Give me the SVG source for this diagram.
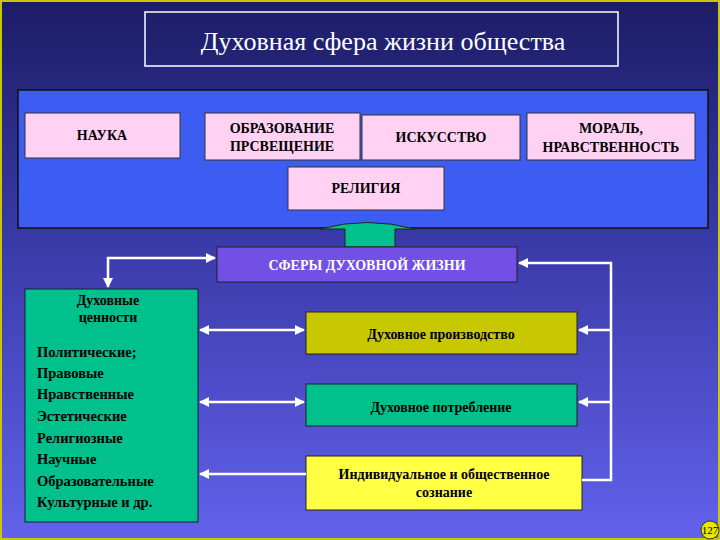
<svg xmlns="http://www.w3.org/2000/svg" width="720" height="540" viewBox="0 0 720 540">
<defs>
<linearGradient id="bg" x1="0" y1="0" x2="0" y2="1"><stop offset="0" stop-color="#1c1c66"/><stop offset="0.45" stop-color="#3a3aa8"/><stop offset="1" stop-color="#6262ec"/></linearGradient>
<marker id="ah" viewBox="0 0 10 10" refX="9" refY="5" markerWidth="4" markerHeight="4" orient="auto-start-reverse"><path d="M0,0 L10,5 L0,10 z" fill="#fff"/></marker>
<style>
text{font-family:"Liberation Serif",serif;fill:#000}
.pk{fill:#ffd2f4;stroke:#333;stroke-width:1}
.c{font-size:14px;text-anchor:middle;font-weight:bold}
.w{stroke:#fff;fill:none;stroke-width:2.5}
</style>
</defs>
<rect width="720" height="540" fill="url(#bg)"/>
<rect x="1" y="1" width="718" height="538" fill="none" stroke="#c8c800" stroke-width="2"/>
<g id="title"><rect x="145" y="12" width="473" height="54" fill="none" stroke="#fff" stroke-width="1.5"/><text x="383" y="50" font-size="26" text-anchor="middle" style="fill:#fff">Духовная сфера жизни общества</text></g>
<g id="panel"><rect x="18" y="90" width="690" height="138" fill="#3c5cf2" stroke="#111" stroke-width="1.5"/></g>
<g id="nauka"><rect class="pk" x="25" y="113" width="155" height="45"/><text class="c" x="102" y="140">НАУКА</text></g>
<g id="obr"><rect class="pk" x="205" y="113" width="155" height="47"/><text class="c" x="282" y="133">ОБРАЗОВАНИЕ</text><text class="c" x="282" y="151">ПРСВЕЩЕНИЕ</text></g>
<g id="isk"><rect class="pk" x="362" y="115" width="158" height="45"/><text class="c" x="441" y="142">ИСКУССТВО</text></g>
<g id="moral"><rect class="pk" x="527" y="113" width="168" height="47"/><text class="c" x="611" y="133">МОРАЛЬ,</text><text class="c" x="611" y="152">НРАВСТВЕННОСТЬ</text></g>
<g id="rel"><rect class="pk" x="288" y="167" width="156" height="43"/><text class="c" x="366" y="193">РЕЛИГИЯ</text></g>
<g id="bigarrow"><path d="M345,247 L345,229 L320,229 Q367,216 415,229 L395,229 L395,247 z" fill="#00c08c" stroke="#222" stroke-width="1"/></g>
<g id="sfery"><rect x="217" y="247" width="300" height="35" fill="#7250e6" stroke="#222"/><text class="c" x="367" y="270" style="fill:#fff">СФЕРЫ ДУХОВНОЙ ЖИЗНИ</text></g>
<g id="values"><rect x="25" y="289" width="173" height="233" fill="#00c08c" stroke="#123"/>
<text class="c" x="108" y="305">Духовные</text><text class="c" x="108" y="322">ценности</text>
<g font-size="14.5" font-weight="bold"><text x="37" y="357">Политические;</text><text x="37" y="378">Правовые</text><text x="37" y="399">Нравственные</text><text x="37" y="421">Эстетические</text><text x="37" y="443">Религиозные</text><text x="37" y="464">Научные</text><text x="37" y="486">Образовательные</text><text x="37" y="507">Культурные и др.</text></g></g>
<g id="prod"><rect x="306" y="312" width="271" height="42" fill="#c8c800" stroke="#222"/><text class="c" x="441" y="339">Духовное производство</text></g>
<g id="potr"><rect x="306" y="384" width="271" height="42" fill="#00c08c" stroke="#222"/><text class="c" x="441" y="412">Духовное потребление</text></g>
<g id="soz"><rect x="306" y="456" width="276" height="54" fill="#ffff44" stroke="#222"/><text class="c" x="444" y="479">Индивидуальное и общественное</text><text class="c" x="444" y="497">сознание</text></g>
<g id="connectors">
<path class="w" d="M215,258 L108,258 L108,287" marker-start="url(#ah)" marker-end="url(#ah)" stroke-width="2"/>
<path class="w" d="M200,330 L304,330" marker-start="url(#ah)" marker-end="url(#ah)" stroke-width="4"/>
<path class="w" d="M200,402 L304,402" marker-start="url(#ah)" marker-end="url(#ah)" stroke-width="2"/>
<path class="w" d="M306,474 L200,474" marker-end="url(#ah)" stroke-width="3"/>
<path class="w" d="M582,480 L611,480 L611,263 L519,263" marker-end="url(#ah)" stroke-width="2"/>
<path class="w" d="M611,330 L579,330" marker-end="url(#ah)" stroke-width="2"/>
<path class="w" d="M611,402 L579,402" marker-end="url(#ah)" stroke-width="2"/>
</g>
<g id="pagenum"><ellipse cx="710" cy="530" rx="9" ry="9" fill="#e8e800" stroke="#333"/><text x="710" y="534" font-size="11" text-anchor="middle">127</text></g>
</svg>
